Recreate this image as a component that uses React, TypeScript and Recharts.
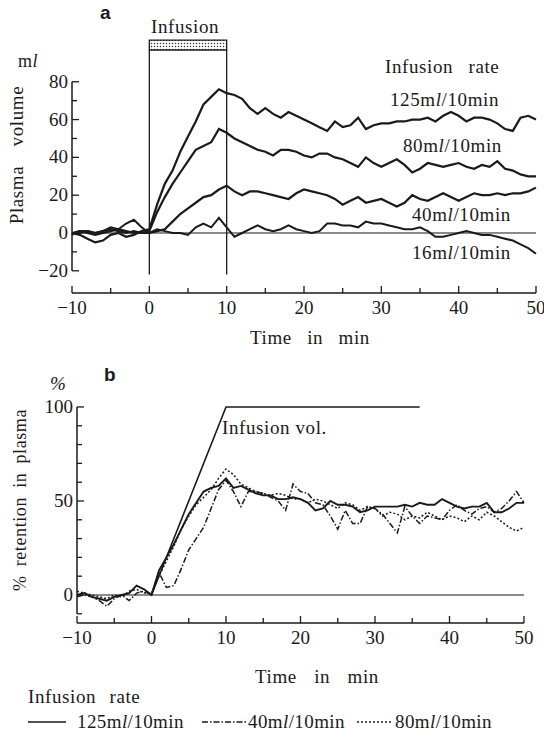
import React from "react"
import { LineChart, Line, XAxis, YAxis, ReferenceLine, ReferenceArea } from "recharts"

const SERIF = "'Liberation Serif', 'Times New Roman', 'DejaVu Serif', serif"
const INK = "#1a1a1a"

// time in min, one reading per minute
const minutes = Array.from({ length: 61 }, (_, i) => i - 10)

// panel a: plasma volume change (ml)
const vol125 = [0, -1, -3, -5, -4, -1, 0, -2, -1, 1, 2,
  15, 26, 33, 43, 51, 59, 68, 72, 76, 74,
  73, 71, 66, 63, 66, 63, 61, 64, 62, 60,
  58, 56, 54, 59, 56, 57, 61, 55, 57, 58,
  58, 59, 59, 60, 60, 61, 59, 62, 64, 62,
  59, 61, 61, 60, 58, 55, 54, 61, 62, 60]
const vol80 = [0, 1, 0, -1, 0, 1, 2, 1, 0, 0, 1,
  11, 19, 26, 32, 38, 44, 46, 48, 55, 53,
  50, 48, 46, 44, 43, 41, 44, 44, 43, 41,
  40, 42, 42, 40, 39, 37, 35, 40, 37, 35,
  37, 39, 36, 32, 34, 37, 36, 35, 36, 37,
  35, 34, 36, 35, 38, 34, 33, 31, 30, 30]
const vol40 = [0, 0, 1, 0, 1, 2, 1, 0, 1, 0, 0,
  1, 2, 6, 10, 13, 16, 19, 20, 23, 25,
  22, 20, 22, 22, 21, 20, 19, 18, 21, 23,
  22, 21, 20, 18, 15, 17, 19, 16, 17, 18,
  16, 14, 16, 20, 18, 17, 19, 21, 19, 17,
  19, 21, 20, 20, 21, 20, 21, 21, 22, 24]
const vol16 = [-1, 1, 1, 0, 1, 3, 2, 5, 7, 3, 0,
  2, 1, 0, 0, -1, 3, 5, 3, 8, 3,
  -2, 0, 2, 4, 2, 1, 2, 4, 2, 1,
  0, 1, 5, 5, 4, 4, 3, 6, 5, 5,
  4, 3, 2, 2, 3, 1, -2, -2, -1, 0,
  1, 0, -1, -1, -2, -3, -4, -6, -8, -11]

// panel b: % retention in plasma
const ret125 = [0, 1, -1, -2, -3, -1, 0, 1, 5, 3, 0,
  13, 20, 27, 35, 43, 49, 55, 57, 58, 62,
  57, 58, 56, 54, 53, 53, 51, 51, 52, 51,
  49, 45, 46, 50, 48, 48, 47, 44, 45, 47,
  47, 47, 47, 48, 47, 49, 48, 48, 51, 49,
  47, 46, 47, 47, 49, 44, 44, 46, 49, 49]
const ret80 = [2, 1, 0, -1, -2, 0, -1, 2, 3, 1, 1,
  10, 18, 26, 35, 42, 48, 52, 56, 62, 67,
  64, 59, 57, 55, 54, 53, 54, 53, 51, 51,
  49, 51, 50, 48, 46, 49, 48, 45, 47, 46,
  42, 44, 43, 40, 42, 41, 44, 42, 40, 42,
  41, 39, 42, 40, 44, 42, 39, 36, 34, 36]
const ret40 = [-1, 0, -1, -3, -6, -2, 0, -3, 1, 2, 0,
  12, 4, 5, 14, 24, 30, 36, 46, 56, 61,
  55, 47, 55, 55, 54, 52, 50, 45, 59, 55,
  54, 49, 48, 42, 35, 45, 38, 38, 47, 46,
  43, 38, 33, 47, 42, 38, 42, 41, 40, 45,
  48, 45, 43, 46, 47, 44, 46, 50, 55, 49]
const infusionVol = [
  { t: 0, vol: 0 },
  { t: 10, vol: 100 },
  { t: 36, vol: 100 },
]

const timeTicks = [-10, -5, 0, 5, 10, 15, 20, 25, 30, 35, 40, 45, 50]
const volTicks = [-20, -10, 0, 10, 20, 30, 40, 50, 60, 70, 80]
const retTicks = [-10, 0, 10, 20, 30, 40, 50, 60, 70, 80, 90, 100]

const dataA = minutes.map((t, i) => ({ t, a125: vol125[i], a80: vol80[i], a40: vol40[i], a16: vol16[i] }))
const dataB = minutes.map((t, i) => ({ t, b125: ret125[i], b80: ret80[i], b40: ret40[i] }))

const fmt = (v: number) => (v < 0 ? "\u2212" + Math.abs(v) : String(v))

const XTick = (props: any) => {
  const { x, y, payload } = props
  const major = payload.value % 10 === 0
  return (
    <g>
      <line x1={x} x2={x} y1={y} y2={y - (major ? 7 : 5)} stroke={INK} strokeWidth={1.3} />
      {major && (
        <text x={x} y={y + 21} textAnchor="middle" fontFamily={SERIF} fontSize={19} fill={INK}>
          {fmt(payload.value)}
        </text>
      )}
    </g>
  )
}

const makeYTick = (step: number) => (props: any) => {
  const { x, y, payload } = props
  const major = payload.value % step === 0
  return (
    <g>
      <line x1={x} x2={x + (major ? 7 : 5)} y1={y} y2={y} stroke={INK} strokeWidth={1.3} />
      {major && (
        <text x={x - 4} y={y + 6} textAnchor="end" fontFamily={SERIF} fontSize={19} fill={INK}>
          {fmt(payload.value)}
        </text>
      )}
    </g>
  )
}

const Txt = ({ left, cy, size = 19, children, style }: any) => (
  <div
    style={{
      position: "absolute", left, top: cy - size * 0.7, fontFamily: SERIF, fontSize: size,
      lineHeight: `${size * 1.4}px`, color: INK, whiteSpace: "nowrap", letterSpacing: 0.6, ...style,
    }}
  >
    {children}
  </div>
)

const VText = ({ cx, cy, w, size = 19, ws = 10, children }: any) => (
  <div
    style={{
      position: "absolute", left: cx - w / 2, top: cy - 12, width: w, height: 24, textAlign: "center",
      lineHeight: "24px", fontFamily: SERIF, fontSize: size, color: INK, whiteSpace: "nowrap",
      transform: "rotate(-90deg)", wordSpacing: ws, letterSpacing: 0.6,
    }}
  >
    {children}
  </div>
)

const Rate = ({ n }: { n: string }) => (
  <span>{n}m<i>l</i>/10min</span>
)

export default function App() {
  return (
    <div style={{ position: "absolute", left: 0, top: 0, width: 544, height: 737, background: "#fff", overflow: "hidden" }}>
      <div style={{ position: "absolute", left: 0, top: 0 }}>
        <LineChart width={544} height={330} data={dataA} margin={{ top: 40, right: 8, bottom: 7, left: 32 }}>
          <defs>
            <pattern id="dots" width="3" height="3" patternUnits="userSpaceOnUse">
              <rect width="3" height="3" fill="#fff" />
              <circle cx="1.5" cy="1.5" r="0.75" fill="#333" />
            </pattern>
          </defs>
          <XAxis dataKey="t" type="number" domain={[-10, 50]} ticks={timeTicks} interval={0}
            tickSize={0} tickMargin={0} height={30} tick={<XTick />} stroke={INK} strokeWidth={1.5} />
          <YAxis type="number" domain={[-31.75, 102.1]} ticks={volTicks} interval={0} allowDataOverflow
            tickSize={0} tickMargin={0} width={40} axisLine={false} tick={makeYTick(20)} />
          <ReferenceLine segment={[{ x: -10, y: -20 }, { x: -10, y: 80 }]} stroke={INK} strokeWidth={1.5} />
          <ReferenceLine y={0} stroke={INK} strokeWidth={1} />
          <ReferenceArea x1={0} x2={10} y1={96.8} y2={102} fill="url(#dots)" fillOpacity={1} stroke={INK} strokeWidth={1.3} ifOverflow="visible" />
          <ReferenceLine segment={[{ x: 0, y: -22 }, { x: 0, y: 96.8 }]} stroke={INK} strokeWidth={1.3} />
          <ReferenceLine segment={[{ x: 10, y: -22 }, { x: 10, y: 96.8 }]} stroke={INK} strokeWidth={1.3} />
          <Line dataKey="a125" stroke={INK} strokeWidth={2.2} dot={false} isAnimationActive={false} />
          <Line dataKey="a80" stroke={INK} strokeWidth={2.2} dot={false} isAnimationActive={false} />
          <Line dataKey="a40" stroke={INK} strokeWidth={2.2} dot={false} isAnimationActive={false} />
          <Line dataKey="a16" stroke={INK} strokeWidth={2} dot={false} isAnimationActive={false} />
        </LineChart>
      </div>

      <div style={{ position: "absolute", left: 0, top: 360 }}>
        <LineChart width={544} height={300} data={dataB} margin={{ top: 40, right: 20, bottom: 7, left: 37 }}>
          <XAxis dataKey="t" type="number" domain={[-10, 50]} ticks={timeTicks} interval={0}
            tickSize={0} tickMargin={0} height={30} tick={<XTick />} stroke={INK} strokeWidth={1.5} />
          <YAxis type="number" domain={[-14.9, 103.7]} ticks={retTicks} interval={0} allowDataOverflow
            tickSize={0} tickMargin={0} width={40} axisLine={false} tick={makeYTick(50)} />
          <ReferenceLine segment={[{ x: -10, y: -10 }, { x: -10, y: 100 }]} stroke={INK} strokeWidth={1.5} />
          <ReferenceLine segment={[{ x: -10, y: 0 }, { x: 50, y: 0 }]} stroke={INK} strokeWidth={1.2} />
          <Line data={infusionVol} dataKey="vol" stroke={INK} strokeWidth={1.6} dot={false} isAnimationActive={false} />
          <Line dataKey="b125" stroke={INK} strokeWidth={1.9} dot={false} isAnimationActive={false} />
          <Line dataKey="b80" stroke={INK} strokeWidth={1.5} strokeDasharray="2 2" dot={false} isAnimationActive={false} />
          <Line dataKey="b40" stroke={INK} strokeWidth={1.5} strokeDasharray="6 2 1.5 2" dot={false} isAnimationActive={false} />
        </LineChart>
      </div>

      {/* panel a text */}
      <Txt left={100} cy={13} size={19} style={{ fontFamily: "'Liberation Sans', Arial, sans-serif", fontWeight: 700, letterSpacing: 0 }}>a</Txt>
      <Txt left={151} cy={27}>Infusion</Txt>
      <Txt left={18} cy={62} size={18}>m<i>l</i></Txt>
      <VText cx={17} cy={155} w={180} ws={14}>Plasma volume</VText>
      <Txt left={385} cy={67} style={{ wordSpacing: 10 }}>Infusion rate</Txt>
      <Txt left={390} cy={100}><Rate n="125" /></Txt>
      <Txt left={403} cy={146}><Rate n="80" /></Txt>
      <Txt left={412} cy={215}><Rate n="40" /></Txt>
      <Txt left={412} cy={253}><Rate n="16" /></Txt>
      <Txt left={250} cy={338} style={{ wordSpacing: 10 }}>Time in min</Txt>

      {/* panel b text */}
      <Txt left={104} cy={375} size={19} style={{ fontFamily: "'Liberation Sans', Arial, sans-serif", fontWeight: 700, letterSpacing: 0 }}>b</Txt>
      <Txt left={50} cy={384} style={{ fontStyle: "italic" }}>%</Txt>
      <VText cx={20} cy={500} w={220} size={18} ws={4} >% retention in plasma</VText>
      <Txt left={222} cy={428}>Infusion vol.</Txt>
      <Txt left={255} cy={677} style={{ wordSpacing: 12 }}>Time in min</Txt>
      <Txt left={28} cy={697} style={{ wordSpacing: 8 }}>Infusion rate</Txt>

      <svg style={{ position: "absolute", left: 0, top: 710 }} width={544} height={24}>
        <line x1={28} x2={66} y1={12} y2={12} stroke={INK} strokeWidth={1.6} />
        <text x={77} y={18} fontFamily={SERIF} fontSize={19} letterSpacing={0.4} fill={INK}>125m<tspan fontStyle="italic">l</tspan>/10min</text>
        <line x1={202} x2={246} y1={12} y2={12} stroke={INK} strokeWidth={1.6} strokeDasharray="6 2 1.5 2" />
        <text x={248} y={18} fontFamily={SERIF} fontSize={19} letterSpacing={0.4} fill={INK}>40m<tspan fontStyle="italic">l</tspan>/10min</text>
        <line x1={357} x2={393} y1={12} y2={12} stroke={INK} strokeWidth={1.6} strokeDasharray="2 2" />
        <text x={395} y={18} fontFamily={SERIF} fontSize={19} letterSpacing={0.4} fill={INK}>80m<tspan fontStyle="italic">l</tspan>/10min</text>
      </svg>
    </div>
  )
}
